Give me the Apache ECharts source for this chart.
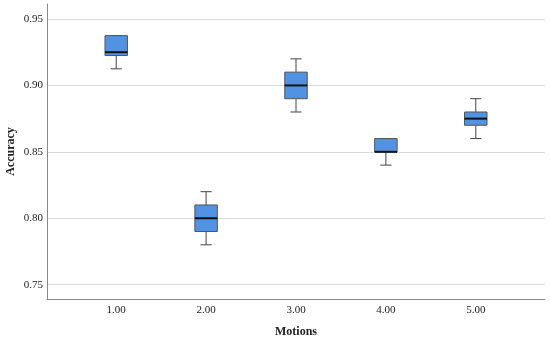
<!DOCTYPE html>
<html>
<head>
<meta charset="utf-8">
<script src="https://cdn.jsdelivr.net/npm/echarts@6/dist/echarts.min.js"></script>
<style>html,body{margin:0;padding:0;background:#fff;}#c{width:550px;height:342px;}</style>
</head>
<body>
<div id="c"></div>
<script>
const categories = ['1.00', '2.00', '3.00', '4.00', '5.00'];
const minVals    = [0.9125, 0.78, 0.88, 0.84, 0.86];
const q1Vals     = [0.9225, 0.79, 0.89, 0.85, 0.87];
const medianVals = [0.925, 0.80, 0.90, 0.85, 0.875];
const q3Vals     = [0.9375, 0.81, 0.91, 0.86, 0.88];
const maxVals    = [0.9375, 0.82, 0.92, 0.86, 0.89];
const xPositions = [1, 2, 3, 4, 5];
const yTicks     = [0.75, 0.80, 0.85, 0.90, 0.95];

const boxData = categories.map((c, i) => [xPositions[i], minVals[i], q1Vals[i], medianVals[i], q3Vals[i], maxVals[i]]);

const chart = echarts.init(document.getElementById('c'), null, {renderer: 'canvas'});
const font = '"Liberation Serif", "Times New Roman", serif';

chart.setOption({
  animation: false,
  backgroundColor: '#fff',
  grid: {left: 47, right: 5, top: 4, bottom: 43, containLabel: false, outerBoundsMode: 'none'},
  xAxis: {
    type: 'value',
    min: 0.23,
    max: 5.77,
    name: 'Motions',
    nameLocation: 'middle',
    nameGap: 27,
    nameMoveOverlap: false,
    nameTextStyle: {fontFamily: font, fontWeight: 'bold', fontSize: 12, color: '#222'},
    axisLine: {show: true, lineStyle: {color: '#888', width: 1}},
    axisTick: {show: false},
    splitLine: {show: false},
    axisLabel: {
      customValues: xPositions,
      margin: 6,
      fontFamily: font, fontSize: 11, color: '#222',
      formatter: v => {
        const i = xPositions.indexOf(Math.round(v * 1000) / 1000);
        return i >= 0 ? categories[i] : '';
      }
    }
  },
  yAxis: {
    type: 'value',
    min: 0.7392,
    max: 0.9613,
    splitNumber: 5,
    name: 'Accuracy',
    nameLocation: 'middle',
    nameRotate: 90,
    nameGap: 30,
    nameMoveOverlap: false,
    nameTextStyle: {fontFamily: font, fontWeight: 'bold', fontSize: 12, color: '#222'},
    axisLine: {show: true, lineStyle: {color: '#888', width: 1}},
    axisTick: {show: false},
    splitLine: {show: true, showMinLine: false, showMaxLine: false, lineStyle: {color: '#d9d9d9', width: 1}},
    axisLabel: {
      customValues: yTicks,
      margin: 4,
      fontFamily: font, fontSize: 11, color: '#222',
      formatter: v => v.toFixed(2)
    }
  },
  series: [{
    type: 'custom',
    data: boxData,
    encode: {x: 0, y: [1, 2, 3, 4, 5]},
    renderItem: function (params, api) {
      const x = api.value(0);
      const c = v => api.coord([x, v]);
      const w = api.size([1, 0])[0] * 0.25;
      const capW = w * 0.5;
      const pMin = c(api.value(1)), pQ1 = c(api.value(2)), pMed = c(api.value(3)),
            pQ3 = c(api.value(4)), pMax = c(api.value(5));
      const cx = pQ1[0];
      const lineStyle = {stroke: '#444', lineWidth: 1, fill: null};
      return {
        type: 'group',
        children: [
          {type: 'line', shape: {x1: cx, y1: pQ1[1], x2: cx, y2: pMin[1]}, style: lineStyle},
          {type: 'line', shape: {x1: cx - capW / 2, y1: pMin[1], x2: cx + capW / 2, y2: pMin[1]}, style: lineStyle},
          {type: 'line', shape: {x1: cx, y1: pQ3[1], x2: cx, y2: pMax[1]}, style: lineStyle},
          {type: 'line', shape: {x1: cx - capW / 2, y1: pMax[1], x2: cx + capW / 2, y2: pMax[1]}, style: lineStyle},
          {type: 'rect', shape: {x: cx - w / 2, y: pQ3[1], width: w, height: pQ1[1] - pQ3[1]},
           style: {fill: '#5192e3', stroke: '#555', lineWidth: 1}},
          {type: 'line', shape: {x1: cx - w / 2, y1: pMed[1], x2: cx + w / 2, y2: pMed[1]},
           style: {stroke: '#111', lineWidth: 2}}
        ]
      };
    }
  }]
});
</script>
</body>
</html>
